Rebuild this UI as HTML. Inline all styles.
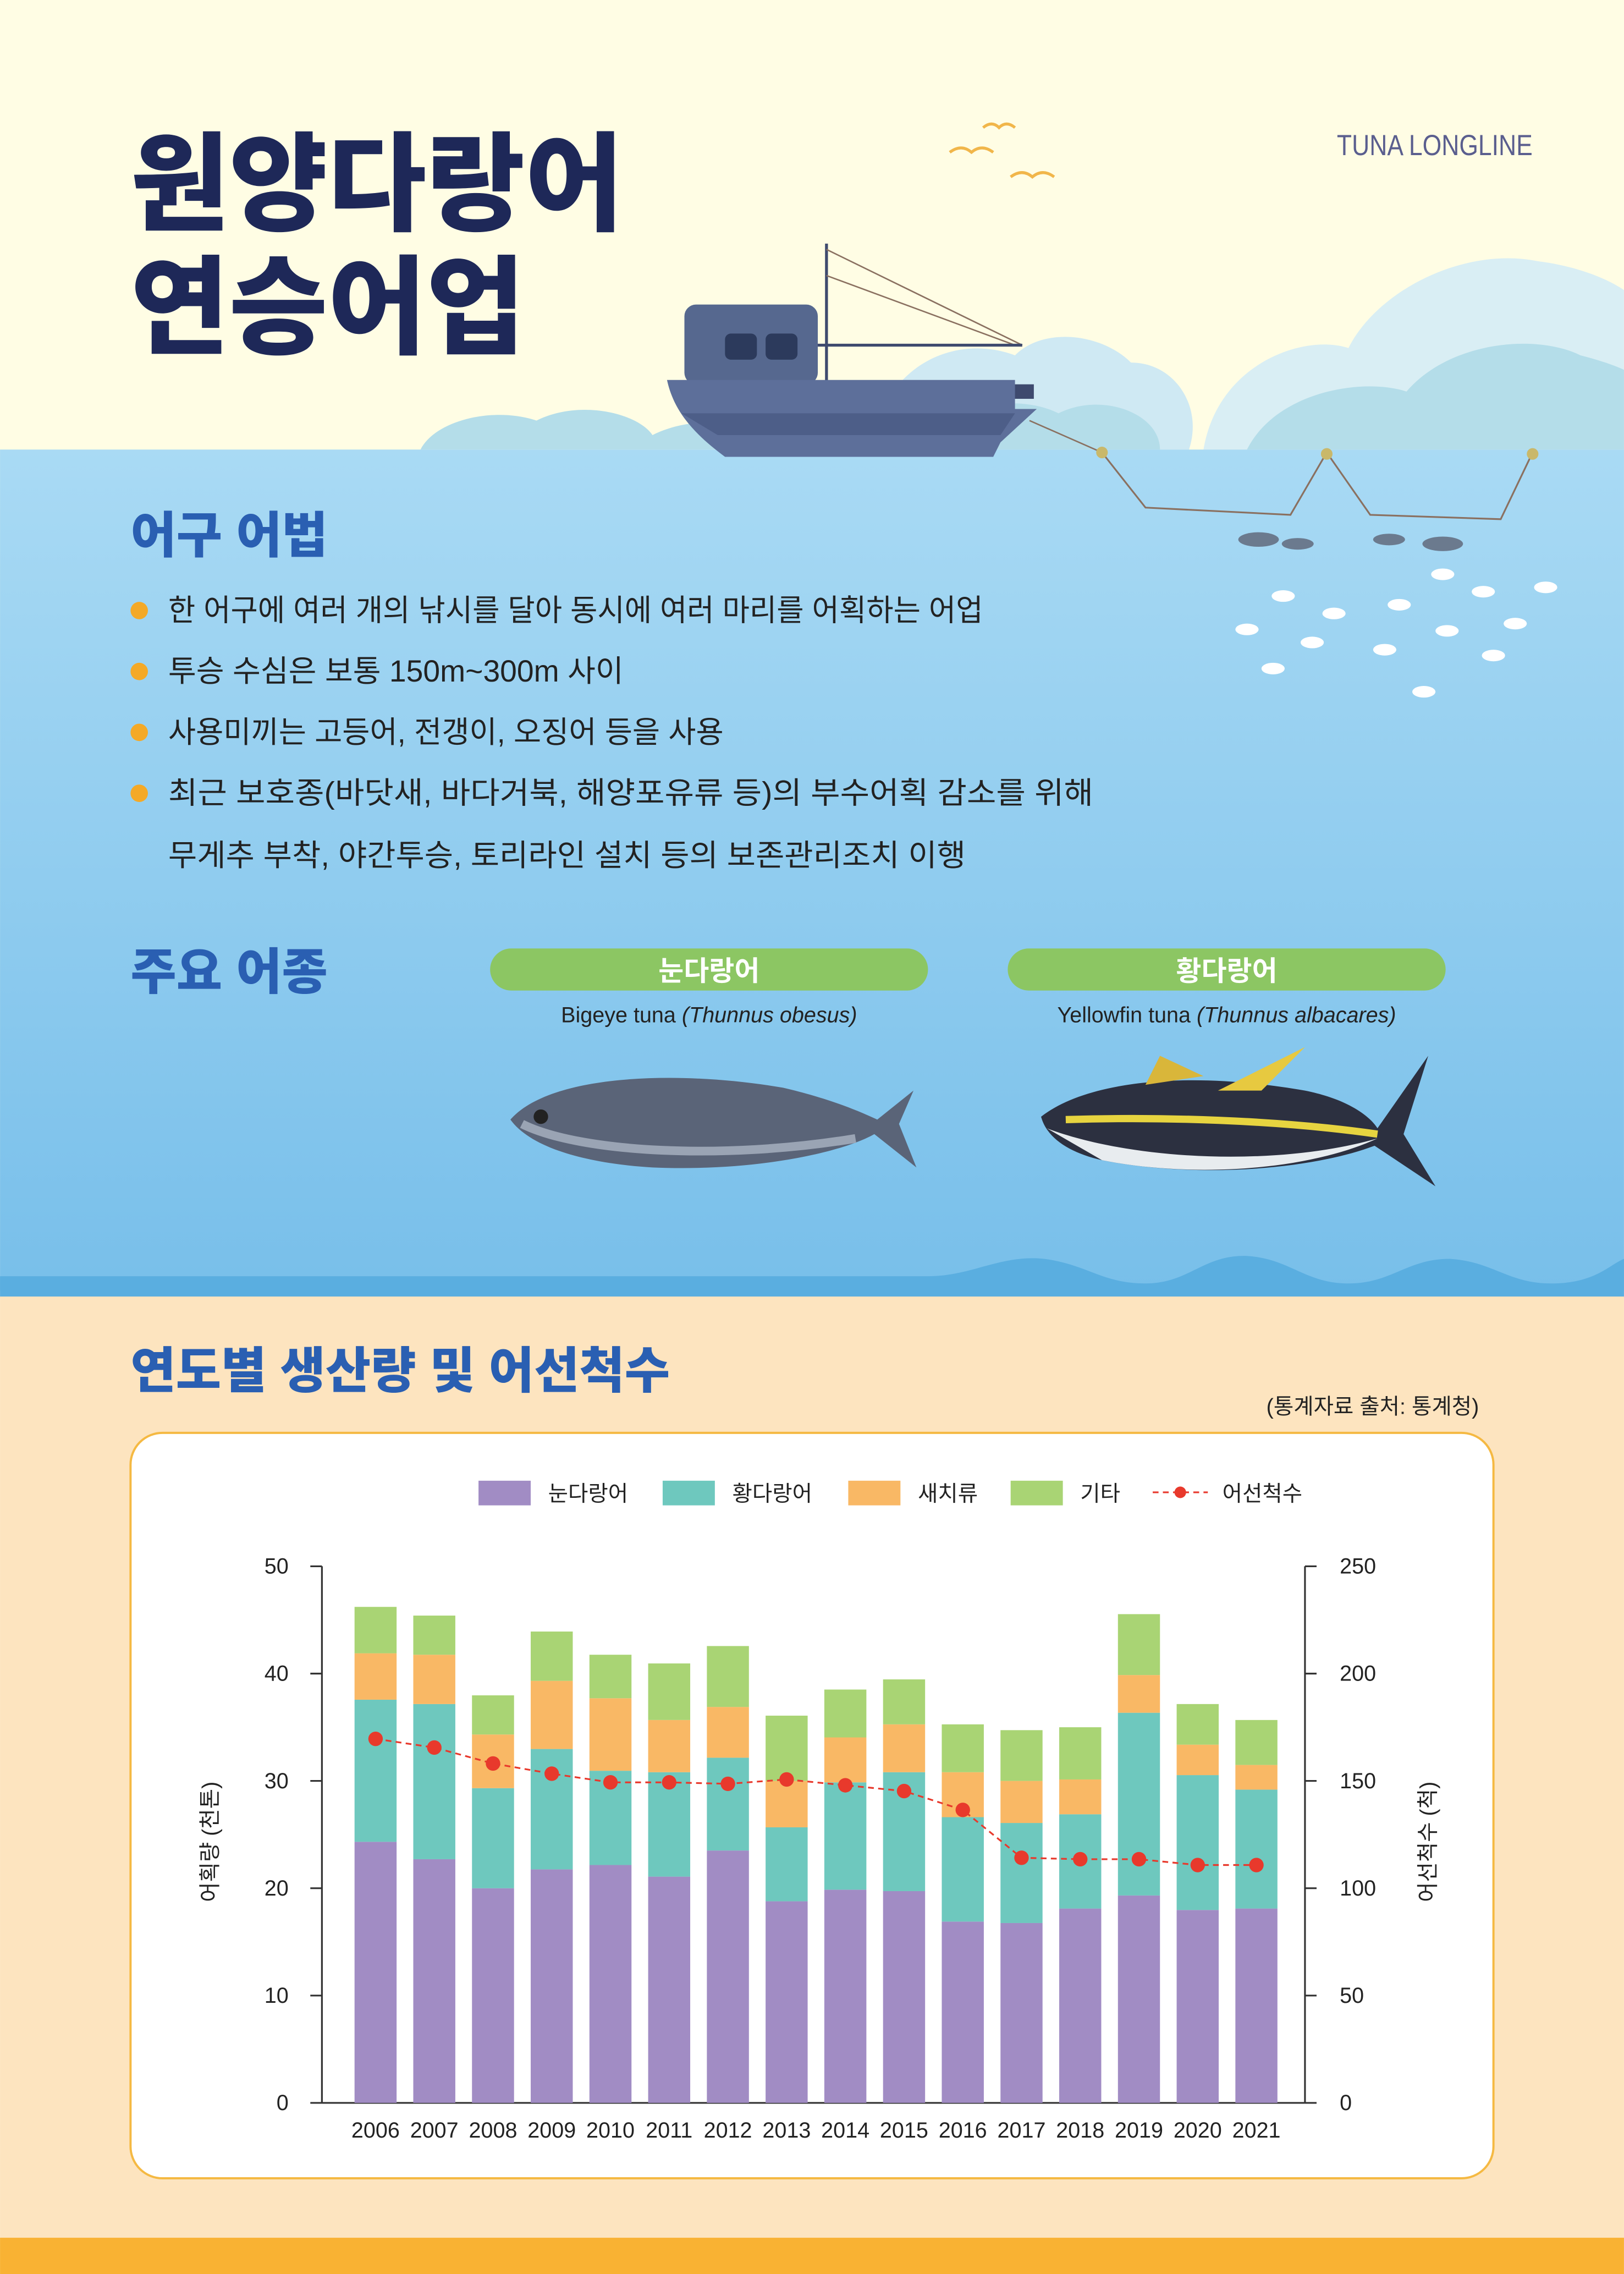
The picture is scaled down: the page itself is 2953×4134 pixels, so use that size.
<!DOCTYPE html>
<html><head><meta charset="utf-8"><style>
html,body{margin:0;padding:0;background:#fffde4;}
svg{display:block;}
text{font-family:"Liberation Sans","Noto Sans CJK KR",sans-serif;}
</style></head><body>
<svg width="2953" height="4134" viewBox="0 0 1120 1568" xmlns="http://www.w3.org/2000/svg">
<defs>
<linearGradient id="sea" x1="0" y1="0" x2="0" y2="1"><stop offset="0" stop-color="#a9daf4"/><stop offset="1" stop-color="#78bfea"/></linearGradient>
</defs>
<rect x="0" y="0" width="1120" height="1568" fill="#fffde4"/>
<path d="M830 310 C840 250 900 230 930 240 C950 200 1010 170 1060 180 C1100 185 1120 200 1120 200 L1120 310 Z" fill="#d9eef4"/>
<path d="M860 310 C880 270 940 260 970 270 C1000 235 1060 230 1090 245 C1110 250 1120 255 1120 255 L1120 310 Z" fill="#b4dde9"/>
<path d="M600 310 C610 250 660 230 700 245 C720 225 760 230 780 250 C810 250 830 280 820 310 Z" fill="#cfe9f3"/>
<path d="M290 310 C300 290 340 280 370 290 C400 275 440 285 450 300 C480 285 520 290 540 310 Z" fill="#b4dde9"/>
<path d="M640 310 C650 280 700 270 730 285 C760 270 800 285 800 310 Z" fill="#b4dde9"/>
<rect x="0" y="310" width="1120" height="580" fill="url(#sea)"/>
<path d="M0 880 L640 880 C670 880 690 865 720 868 C750 872 760 885 790 885 C820 885 830 865 860 866 C890 868 900 885 930 885 C960 885 970 868 1000 868 C1030 870 1040 885 1070 885 C1100 885 1110 872 1120 868 L1120 895 L0 895 Z" fill="#5aaee0"/>
<rect x="0" y="894" width="1120" height="650" fill="#fde4bf"/>
<rect x="0" y="1543" width="1120" height="25" fill="#f9b233"/>
<path d="M655 105 q8 -6 15 0 q7 -6 15 0" stroke="#f1b64a" stroke-width="2" fill="none"/>
<path d="M678 88 q6 -5 11 0 q5 -5 11 0" stroke="#f1b64a" stroke-width="2" fill="none"/>
<path d="M697 122 q8 -6 15 0 q7 -6 15 0" stroke="#f1b64a" stroke-width="2" fill="none"/>
<text x="90" y="153" font-size="74" font-weight="900" fill="#1e2858" textLength="340" lengthAdjust="spacingAndGlyphs">원양다랑어</text>
<text x="90" y="238" font-size="74" font-weight="900" fill="#1e2858" textLength="272" lengthAdjust="spacingAndGlyphs">연승어업</text>
<text x="922" y="107" font-size="20" fill="#5a5e8e" textLength="135" lengthAdjust="spacingAndGlyphs">TUNA LONGLINE</text>
<line x1="570" y1="168" x2="570" y2="265" stroke="#3e4a6e" stroke-width="2"/>
<line x1="570" y1="172" x2="705" y2="238" stroke="#8a7060" stroke-width="1"/>
<line x1="570" y1="190" x2="700" y2="238" stroke="#8a7060" stroke-width="1"/>
<line x1="555" y1="238" x2="705" y2="238" stroke="#3e4a6e" stroke-width="2"/>
<rect x="472" y="210" width="92" height="55" rx="8" fill="#56688f"/>
<rect x="500" y="230" width="22" height="18" rx="4" fill="#2c3a5c"/>
<rect x="528" y="230" width="22" height="18" rx="4" fill="#2c3a5c"/>
<rect x="535" y="265" width="178" height="10" fill="#3e4a6e"/>
<path d="M460 262 L700 262 L700 282 L715 282 L690 305 L685 315 L500 315 C480 300 465 285 460 262 Z" fill="#5d6f9a"/>
<path d="M470 285 L700 285 L690 300 L495 300 Z" fill="#4d5e88"/>
<line x1="710" y1="290" x2="760" y2="312" stroke="#8a7060" stroke-width="1"/>
<path d="M760 312 L790 350 L890 355 L915 312 L945 355 L1035 358 L1057 312" stroke="#8a7060" stroke-width="1.2" fill="none"/>
<circle cx="760" cy="312" r="4" fill="#c9b86a"/><circle cx="915" cy="313" r="4" fill="#c9b86a"/><circle cx="1057" cy="313" r="4" fill="#c9b86a"/>
<g fill="#6b7a8e"><ellipse cx="868" cy="372" rx="14" ry="5"/><ellipse cx="895" cy="375" rx="11" ry="4"/><ellipse cx="958" cy="372" rx="11" ry="4"/><ellipse cx="995" cy="375" rx="14" ry="5"/></g>
<g fill="#ffffff"><ellipse cx="995" cy="396" rx="8" ry="4"/><ellipse cx="1066" cy="405" rx="8" ry="4"/><ellipse cx="1023" cy="408" rx="8" ry="4"/><ellipse cx="885" cy="411" rx="8" ry="4"/><ellipse cx="965" cy="417" rx="8" ry="4"/><ellipse cx="920" cy="423" rx="8" ry="4"/><ellipse cx="1045" cy="430" rx="8" ry="4"/><ellipse cx="860" cy="434" rx="8" ry="4"/><ellipse cx="998" cy="435" rx="8" ry="4"/><ellipse cx="905" cy="443" rx="8" ry="4"/><ellipse cx="955" cy="448" rx="8" ry="4"/><ellipse cx="1030" cy="452" rx="8" ry="4"/><ellipse cx="878" cy="461" rx="8" ry="4"/><ellipse cx="982" cy="477" rx="8" ry="4"/></g>
<text x="90" y="381" font-size="34" font-weight="900" fill="#2a5fb2" textLength="136" lengthAdjust="spacingAndGlyphs">어구 어법</text>
<g fill="#f4a927"><circle cx="96" cy="421" r="6"/><circle cx="96" cy="463" r="6"/><circle cx="96" cy="505" r="6"/><circle cx="96" cy="547" r="6"/></g>
<g font-size="21" fill="#222">
<text x="116" y="428" textLength="562" lengthAdjust="spacingAndGlyphs">한 어구에 여러 개의 낚시를 달아 동시에 여러 마리를 어획하는 어업</text>
<text x="116" y="470" textLength="314" lengthAdjust="spacingAndGlyphs">투승 수심은 보통 150m~300m 사이</text>
<text x="116" y="512" textLength="383" lengthAdjust="spacingAndGlyphs">사용미끼는 고등어, 전갱이, 오징어 등을 사용</text>
<text x="116" y="554" textLength="638" lengthAdjust="spacingAndGlyphs">최근 보호종(바닷새, 바다거북, 해양포유류 등)의 부수어획 감소를 위해</text>
<text x="116" y="597" textLength="550" lengthAdjust="spacingAndGlyphs">무게추 부착, 야간투승, 토리라인 설치 등의 보존관리조치 이행</text>
</g>
<text x="90" y="682" font-size="34" font-weight="900" fill="#2a5fb2" textLength="136" lengthAdjust="spacingAndGlyphs">주요 어종</text>
<rect x="338" y="654" width="302" height="29" rx="14.5" fill="#8cc663"/>
<rect x="695" y="654" width="302" height="29" rx="14.5" fill="#8cc663"/>
<text x="489" y="676" font-size="19" font-weight="bold" fill="#fff" text-anchor="middle">눈다랑어</text>
<text x="846" y="676" font-size="19" font-weight="bold" fill="#fff" text-anchor="middle">황다랑어</text>
<text x="489" y="705" font-size="15" fill="#222" text-anchor="middle">Bigeye tuna <tspan font-style="italic">(Thunnus obesus)</tspan></text>
<text x="846" y="705" font-size="15" fill="#222" text-anchor="middle">Yellowfin tuna <tspan font-style="italic">(Thunnus albacares)</tspan></text>
<path d="M352 772 C380 740 470 738 540 750 C570 757 590 765 605 772 L630 752 L620 775 L632 805 L603 782 C580 795 520 808 450 805 C400 802 365 790 352 772 Z" fill="#5a6478"/>
<path d="M360 775 C400 795 500 800 590 785" stroke="#9aa4b4" stroke-width="6" fill="none"/>
<circle cx="373" cy="770" r="5" fill="#222"/>
<path d="M718 770 C750 745 820 738 900 752 C930 758 945 770 950 778 L985 728 L968 782 L990 818 L948 790 C900 808 820 812 760 800 C738 795 722 785 718 770 Z" fill="#2c3040"/>
<path d="M722 778 C780 800 880 805 950 785 C900 808 820 812 760 800 Z" fill="#e8ecef"/>
<path d="M735 772 C800 770 880 772 950 782" stroke="#e7d440" stroke-width="5" fill="none"/>
<path d="M840 752 L900 722 L870 752 Z" fill="#e7c940"/>
<path d="M790 748 L800 728 L830 742 Z" fill="#d9b63a"/>
<text x="90" y="957" font-size="34" font-weight="900" fill="#2a5fb2" textLength="372" lengthAdjust="spacingAndGlyphs">연도별 생산량 및 어선척수</text>
<text x="1020" y="975" font-size="15" fill="#222" text-anchor="end">(통계자료 출처: 통계청)</text>
<rect x="90" y="988" width="940" height="514" rx="22" fill="#fff" stroke="#f5b942" stroke-width="1.5"/>
<g font-size="15" fill="#222">
<rect x="330" y="1021" width="36" height="17" fill="#a18cc4"/><text x="378" y="1035">눈다랑어</text>
<rect x="457" y="1021" width="36" height="17" fill="#6ec8be"/><text x="505" y="1035">황다랑어</text>
<rect x="585" y="1021" width="36" height="17" fill="#f9b865"/><text x="633" y="1035">새치류</text>
<rect x="697" y="1021" width="36" height="17" fill="#a9d474"/><text x="745" y="1035">기타</text>
<line x1="795" y1="1029" x2="833" y2="1029" stroke="#e8392c" stroke-width="1.2" stroke-dasharray="4,3"/><circle cx="814" cy="1029" r="4" fill="#e8392c"/><text x="843" y="1035">어선척수</text>
</g>
<g stroke="#333" stroke-width="1.2" fill="none">
<line x1="222" y1="1080" x2="222" y2="1450"/><line x1="900" y1="1080" x2="900" y2="1450"/><line x1="222" y1="1450" x2="900" y2="1450"/>
<path d="M214 1080H222M214 1154H222M214 1228H222M214 1302H222M214 1376H222M214 1450H222"/>
<path d="M900 1080H908M900 1154H908M900 1228H908M900 1302H908M900 1376H908M900 1450H908"/>
</g>
<g font-size="15" fill="#222" text-anchor="end">
<text x="199" y="1085">50</text><text x="199" y="1159">40</text><text x="199" y="1233">30</text><text x="199" y="1307">20</text><text x="199" y="1381">10</text><text x="199" y="1455">0</text>
</g>
<g font-size="15" fill="#222">
<text x="924" y="1085">250</text><text x="924" y="1159">200</text><text x="924" y="1233">150</text><text x="924" y="1307">100</text><text x="924" y="1381">50</text><text x="924" y="1455">0</text>
</g>
<text transform="translate(150,1270) rotate(-90)" font-size="15" fill="#222" text-anchor="middle">어획량 (천톤)</text>
<text transform="translate(990,1270) rotate(-90)" font-size="15" fill="#222" text-anchor="middle">어선척수 (척)</text>
<g>
<rect x="244.5" y="1270" width="29" height="180" fill="#a18cc4"/><rect x="244.5" y="1172" width="29" height="98" fill="#6ec8be"/><rect x="244.5" y="1140" width="29" height="32" fill="#f9b865"/><rect x="244.5" y="1108" width="29" height="32" fill="#a9d474"/>
<rect x="285" y="1282" width="29" height="168" fill="#a18cc4"/><rect x="285" y="1175" width="29" height="107" fill="#6ec8be"/><rect x="285" y="1141" width="29" height="34" fill="#f9b865"/><rect x="285" y="1114" width="29" height="27" fill="#a9d474"/>
<rect x="325.5" y="1302" width="29" height="148" fill="#a18cc4"/><rect x="325.5" y="1233" width="29" height="69" fill="#6ec8be"/><rect x="325.5" y="1196" width="29" height="37" fill="#f9b865"/><rect x="325.5" y="1169" width="29" height="27" fill="#a9d474"/>
<rect x="366" y="1289" width="29" height="161" fill="#a18cc4"/><rect x="366" y="1206" width="29" height="83" fill="#6ec8be"/><rect x="366" y="1159" width="29" height="47" fill="#f9b865"/><rect x="366" y="1125" width="29" height="34" fill="#a9d474"/>
<rect x="406.5" y="1286" width="29" height="164" fill="#a18cc4"/><rect x="406.5" y="1221" width="29" height="65" fill="#6ec8be"/><rect x="406.5" y="1171" width="29" height="50" fill="#f9b865"/><rect x="406.5" y="1141" width="29" height="30" fill="#a9d474"/>
<rect x="447" y="1294" width="29" height="156" fill="#a18cc4"/><rect x="447" y="1222" width="29" height="72" fill="#6ec8be"/><rect x="447" y="1186" width="29" height="36" fill="#f9b865"/><rect x="447" y="1147" width="29" height="39" fill="#a9d474"/>
<rect x="487.5" y="1276" width="29" height="174" fill="#a18cc4"/><rect x="487.5" y="1212" width="29" height="64" fill="#6ec8be"/><rect x="487.5" y="1177" width="29" height="35" fill="#f9b865"/><rect x="487.5" y="1135" width="29" height="42" fill="#a9d474"/>
<rect x="528" y="1311" width="29" height="139" fill="#a18cc4"/><rect x="528" y="1260" width="29" height="51" fill="#6ec8be"/><rect x="528" y="1228" width="29" height="32" fill="#f9b865"/><rect x="528" y="1183" width="29" height="45" fill="#a9d474"/>
<rect x="568.5" y="1303" width="29" height="147" fill="#a18cc4"/><rect x="568.5" y="1229" width="29" height="74" fill="#6ec8be"/><rect x="568.5" y="1198" width="29" height="31" fill="#f9b865"/><rect x="568.5" y="1165" width="29" height="33" fill="#a9d474"/>
<rect x="609" y="1304" width="29" height="146" fill="#a18cc4"/><rect x="609" y="1222" width="29" height="82" fill="#6ec8be"/><rect x="609" y="1189" width="29" height="33" fill="#f9b865"/><rect x="609" y="1158" width="29" height="31" fill="#a9d474"/>
<rect x="649.5" y="1325" width="29" height="125" fill="#a18cc4"/><rect x="649.5" y="1253" width="29" height="72" fill="#6ec8be"/><rect x="649.5" y="1222" width="29" height="31" fill="#f9b865"/><rect x="649.5" y="1189" width="29" height="33" fill="#a9d474"/>
<rect x="690" y="1326" width="29" height="124" fill="#a18cc4"/><rect x="690" y="1257" width="29" height="69" fill="#6ec8be"/><rect x="690" y="1228" width="29" height="29" fill="#f9b865"/><rect x="690" y="1193" width="29" height="35" fill="#a9d474"/>
<rect x="730.5" y="1316" width="29" height="134" fill="#a18cc4"/><rect x="730.5" y="1251" width="29" height="65" fill="#6ec8be"/><rect x="730.5" y="1227" width="29" height="24" fill="#f9b865"/><rect x="730.5" y="1191" width="29" height="36" fill="#a9d474"/>
<rect x="771" y="1307" width="29" height="143" fill="#a18cc4"/><rect x="771" y="1181" width="29" height="126" fill="#6ec8be"/><rect x="771" y="1155" width="29" height="26" fill="#f9b865"/><rect x="771" y="1113" width="29" height="42" fill="#a9d474"/>
<rect x="811.5" y="1317" width="29" height="133" fill="#a18cc4"/><rect x="811.5" y="1224" width="29" height="93" fill="#6ec8be"/><rect x="811.5" y="1203" width="29" height="21" fill="#f9b865"/><rect x="811.5" y="1175" width="29" height="28" fill="#a9d474"/>
<rect x="852" y="1316" width="29" height="134" fill="#a18cc4"/><rect x="852" y="1234" width="29" height="82" fill="#6ec8be"/><rect x="852" y="1217" width="29" height="17" fill="#f9b865"/><rect x="852" y="1186" width="29" height="31" fill="#a9d474"/>
</g>
<polyline points="259,1199 299.5,1205 340,1216 380.5,1223 421,1229 461.5,1229 502,1230 542.5,1227 583,1231 623.5,1235 664,1248 704.5,1281 745,1282 785.5,1282 826,1286 866.5,1286" fill="none" stroke="#e8392c" stroke-width="1.2" stroke-dasharray="4,3"/>
<g fill="#e8392c">
<circle cx="259" cy="1199" r="5"/><circle cx="299.5" cy="1205" r="5"/><circle cx="340" cy="1216" r="5"/><circle cx="380.5" cy="1223" r="5"/><circle cx="421" cy="1229" r="5"/><circle cx="461.5" cy="1229" r="5"/><circle cx="502" cy="1230" r="5"/><circle cx="542.5" cy="1227" r="5"/><circle cx="583" cy="1231" r="5"/><circle cx="623.5" cy="1235" r="5"/><circle cx="664" cy="1248" r="5"/><circle cx="704.5" cy="1281" r="5"/><circle cx="745" cy="1282" r="5"/><circle cx="785.5" cy="1282" r="5"/><circle cx="826" cy="1286" r="5"/><circle cx="866.5" cy="1286" r="5"/>
</g>
<g font-size="15" fill="#222" text-anchor="middle">
<text x="259" y="1474">2006</text><text x="299.5" y="1474">2007</text><text x="340" y="1474">2008</text><text x="380.5" y="1474">2009</text><text x="421" y="1474">2010</text><text x="461.5" y="1474">2011</text><text x="502" y="1474">2012</text><text x="542.5" y="1474">2013</text><text x="583" y="1474">2014</text><text x="623.5" y="1474">2015</text><text x="664" y="1474">2016</text><text x="704.5" y="1474">2017</text><text x="745" y="1474">2018</text><text x="785.5" y="1474">2019</text><text x="826" y="1474">2020</text><text x="866.5" y="1474">2021</text>
</g>
</svg>
</body></html>
